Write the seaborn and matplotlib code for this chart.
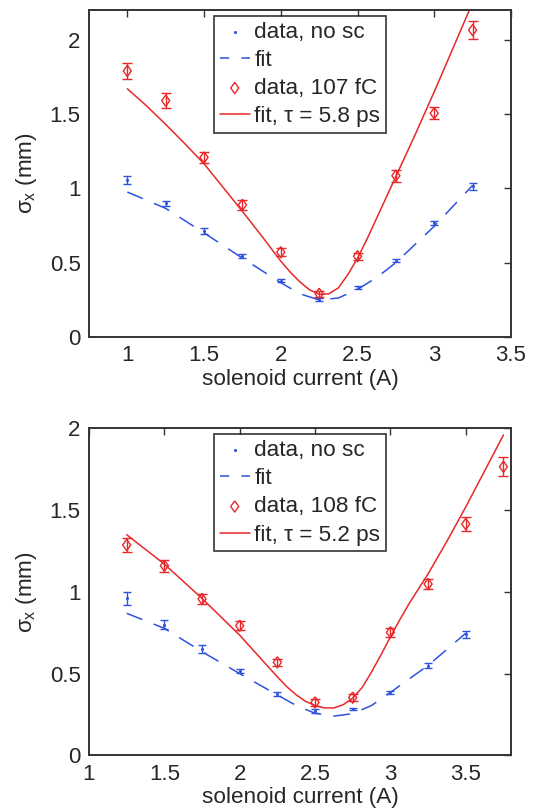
import matplotlib
matplotlib.use('Agg')
import matplotlib.pyplot as plt
import seaborn as sns

# ---- top panel data (107 fC) ----
x_top = [1.0, 1.25, 1.5, 1.75, 2.0, 2.25, 2.5, 2.75, 3.0, 3.25]
blue_top = [1.055, 0.90, 0.715, 0.543, 0.378, 0.25, 0.332, 0.514, 0.768, 1.013]
blue_top_err = [0.025, 0.017, 0.019, 0.013, 0.009, 0.01, 0.008, 0.01, 0.012, 0.022]
red_top = [1.79, 1.59, 1.208, 0.889, 0.57, 0.29, 0.543, 1.085, 1.505, 2.065]
red_top_err = [0.056, 0.05, 0.038, 0.035, 0.026, 0.02, 0.025, 0.04, 0.04, 0.06]

xfit_top = [1.0, 1.125, 1.25, 1.375, 1.5, 1.625, 1.75, 1.875, 2.0, 2.0625, 2.125,
            2.1875, 2.25, 2.3125, 2.375, 2.4375, 2.5, 2.5625, 2.625, 2.75, 2.875,
            3.0, 3.125, 3.25]
red_fit_top = [1.67, 1.555, 1.43, 1.30, 1.165, 1.005, 0.845, 0.68, 0.51, 0.435, 0.37,
               0.317, 0.287, 0.29, 0.33, 0.42, 0.53, 0.66, 0.80, 1.08, 1.36,
               1.65, 1.95, 2.25]
xbfit_top = [1.0, 1.25, 1.5, 1.75, 2.0, 2.125, 2.25, 2.375, 2.5, 2.625, 2.75, 3.0, 3.25]
blue_fit_top = [0.975, 0.865, 0.70, 0.53, 0.365, 0.29, 0.249, 0.262, 0.32, 0.40, 0.50,
                0.745, 1.02]

# ---- bottom panel data (108 fC) ----
x_bot = [1.25, 1.5, 1.75, 2.0, 2.25, 2.5, 2.75, 3.0, 3.25, 3.5]
blue_bot = [0.961, 0.80, 0.65, 0.518, 0.375, 0.271, 0.283, 0.385, 0.547, 0.74]
blue_bot_err = [0.041, 0.026, 0.025, 0.013, 0.012, 0.01, 0.008, 0.01, 0.015, 0.022]
x_bot_red = [1.25, 1.5, 1.75, 2.0, 2.25, 2.5, 2.75, 3.0, 3.25, 3.5, 3.75]
red_bot = [1.287, 1.16, 0.957, 0.793, 0.569, 0.324, 0.353, 0.753, 1.048, 1.415, 1.766]
red_bot_err = [0.041, 0.036, 0.033, 0.028, 0.023, 0.02, 0.02, 0.028, 0.03, 0.042, 0.057]

xfit_bot = [1.25, 1.5, 1.75, 2.0, 2.25, 2.3125, 2.375, 2.4375, 2.5, 2.5625, 2.625,
            2.6875, 2.75, 2.8125, 2.875, 2.9375, 3.0, 3.0625, 3.125, 3.1875, 3.25,
            3.375, 3.5, 3.625, 3.75]
red_fit_bot = [1.35, 1.17, 0.96, 0.735, 0.48, 0.42, 0.37, 0.33, 0.305, 0.29, 0.29,
               0.31, 0.35, 0.415, 0.51, 0.615, 0.725, 0.83, 0.93, 1.02, 1.11,
               1.31, 1.52, 1.74, 1.96]
xbfit_bot = [1.25, 1.5, 1.75, 2.0, 2.25, 2.375, 2.5, 2.625, 2.75, 2.875, 3.0, 3.25, 3.5]
blue_fit_bot = [0.869, 0.777, 0.634, 0.50, 0.369, 0.305, 0.257, 0.24, 0.255, 0.305,
                0.385, 0.55, 0.747]

BLUE = '#2f52e0'
RED = '#e8282a'
DIAMOND = [(0, 1), (0.72, 0), (0, -1), (-0.72, 0), (0, 1)]

sns.set_style('white')
plt.rcParams['font.family'] = ['Liberation Sans', 'DejaVu Sans']
plt.rcParams['mathtext.fontset'] = 'custom'
plt.rcParams['mathtext.rm'] = 'Liberation Sans'
plt.rcParams['mathtext.it'] = 'Liberation Sans'
plt.rcParams['font.size'] = 16

fig = plt.figure(figsize=(5.41, 8.08), dpi=100)
ax1 = fig.add_axes([0.1645, 0.583, 0.78, 0.4046])
ax2 = fig.add_axes([0.1645, 0.0652, 0.78, 0.4045])


def panel(ax, xb, yb, eb, xr, yr, er, xbf, ybf, xrf, yrf, qlabel, tlabel):
    ax.errorbar(xb, yb, yerr=eb, fmt='none', ecolor=BLUE, elinewidth=1.0,
                capsize=3, capthick=1.0)
    sns.scatterplot(x=xb, y=yb, color=BLUE, marker='.', s=20, edgecolor=BLUE,
                    linewidth=0, label='data, no sc', ax=ax)
    sns.lineplot(x=xbf, y=ybf, color=BLUE, linewidth=1.1,
                 label='fit', ax=ax).lines[-1].set_dashes((11, 8))
    ax.errorbar(xr, yr, yerr=er, fmt='none', ecolor=RED, elinewidth=1.0,
                capsize=3.5, capthick=1.0)
    sns.scatterplot(x=xr, y=yr, marker=DIAMOND, s=65, facecolor='none',
                    edgecolor=RED, linewidth=1.0, label=qlabel, ax=ax)
    sns.lineplot(x=xrf, y=yrf, color=RED, linewidth=1.1, label=tlabel, ax=ax)

    ax.set_xlabel('solenoid current (A)', fontsize=16.2, labelpad=2)
    ax.set_ylabel(r'$\sigma_x$ (mm)', fontsize=16.2, labelpad=8)
    ax.tick_params(direction='in', top=True, right=True, length=5, width=1,
                   labelsize=16, color='#333333', pad=6)
    for sp in ax.spines.values():
        sp.set_color('#333333')
        sp.set_linewidth(1.4)
    leg = ax.legend(loc='upper center', bbox_to_anchor=(0.5, 0.982), fontsize=16.2,
                    frameon=True, fancybox=False, edgecolor='black',
                    handlelength=1.35, handletextpad=0.2, labelspacing=0.32,
                    borderpad=0.25, borderaxespad=0.0, markerscale=1.0)
    leg.get_frame().set_linewidth(1.2)
    leg.legend_handles[1].set_dashes((6, 8))


panel(ax1, x_top, blue_top, blue_top_err, x_top, red_top, red_top_err,
      xbfit_top, blue_fit_top, xfit_top, red_fit_top,
      'data, 107 fC', 'fit, τ = 5.8 ps')
ax1.set_xlim(0.75, 3.5)
ax1.set_ylim(0, 2.2)
ax1.set_xticks([1, 1.5, 2, 2.5, 3, 3.5])
ax1.set_xticklabels(['1', '1.5', '2', '2.5', '3', '3.5'])
ax1.set_yticks([0, 0.5, 1, 1.5, 2])
ax1.set_yticklabels(['0', '0.5', '1', '1.5', '2'])

panel(ax2, x_bot, blue_bot, blue_bot_err, x_bot_red, red_bot, red_bot_err,
      xbfit_bot, blue_fit_bot, xfit_bot, red_fit_bot,
      'data, 108 fC', 'fit, τ = 5.2 ps')
ax2.set_xlim(1, 3.8)
ax2.set_ylim(0, 2)
ax2.set_xticks([1, 1.5, 2, 2.5, 3, 3.5])
ax2.set_xticklabels(['1', '1.5', '2', '2.5', '3', '3.5'])
ax2.set_yticks([0, 0.5, 1, 1.5, 2])
ax2.set_yticklabels(['0', '0.5', '1', '1.5', '2'])

fig.savefig('out.png', dpi=100)
